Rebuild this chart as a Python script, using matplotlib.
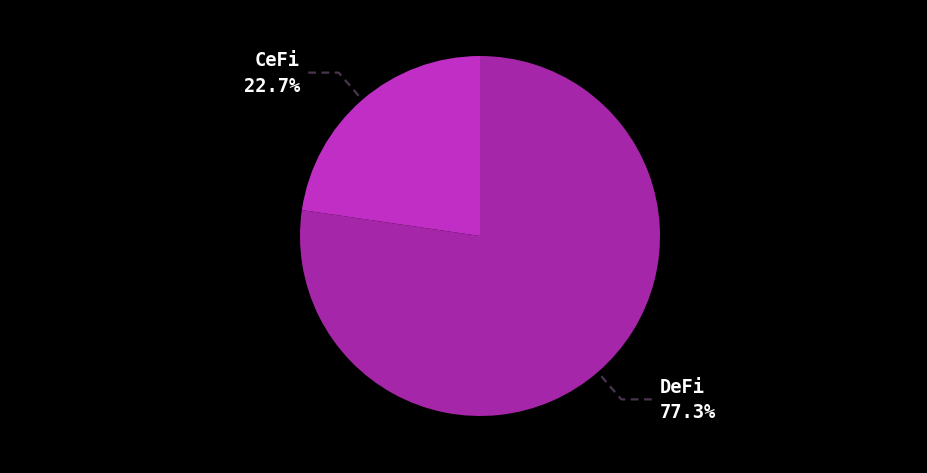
import numpy as np
import matplotlib
matplotlib.use("Agg")
import matplotlib.pyplot as plt

labels = ["DeFi", "CeFi"]
shares = [77.3, 22.7]
colors = ["#a626aa", "#c02ec6"]

W, H = 927, 473
cx, cy, R = 480, 236, 180

fig = plt.figure(figsize=(W / 100, H / 100), dpi=100, facecolor="black")
ax = fig.add_axes([0, 0, 1, 1])
ax.set_facecolor("black")

wedges, _ = ax.pie(shares, colors=colors, startangle=90, counterclock=False,
                   radius=1, center=(0, 0), frame=True,
                   wedgeprops=dict(linewidth=0))
ax.set_xlim(-cx / R, (W - cx) / R)
ax.set_ylim(-(H - cy) / R, cy / R)
ax.set_aspect("equal")
ax.axis("off")

line_col = "#4a3550"
font = dict(family="DejaVu Sans Mono", fontsize=13.5, fontweight="bold", color="white")

for w, lab, val in zip(wedges, labels, shares):
    ang = np.deg2rad((w.theta1 + w.theta2) / 2)
    x0, y0 = np.cos(ang), np.sin(ang)
    side = np.sign(x0)
    ex, ey = 1.2 * x0, 1.2 * y0
    hx = side * 0.972
    ax.plot([1.03 * x0, ex, hx], [1.03 * y0, ey, ey], color=line_col, lw=1.6,
            ls=(0, (3.5, 2.5)), clip_on=False)
    ha = "left" if side > 0 else "right"
    tx = side * 1.0
    ax.text(tx, ey + 0.065, lab, ha=ha, va="center", **font)
    ax.text(tx, ey - 0.075, f"{val}%", ha=ha, va="center", **font)

fig.savefig("out.png", dpi=100, facecolor="black")
